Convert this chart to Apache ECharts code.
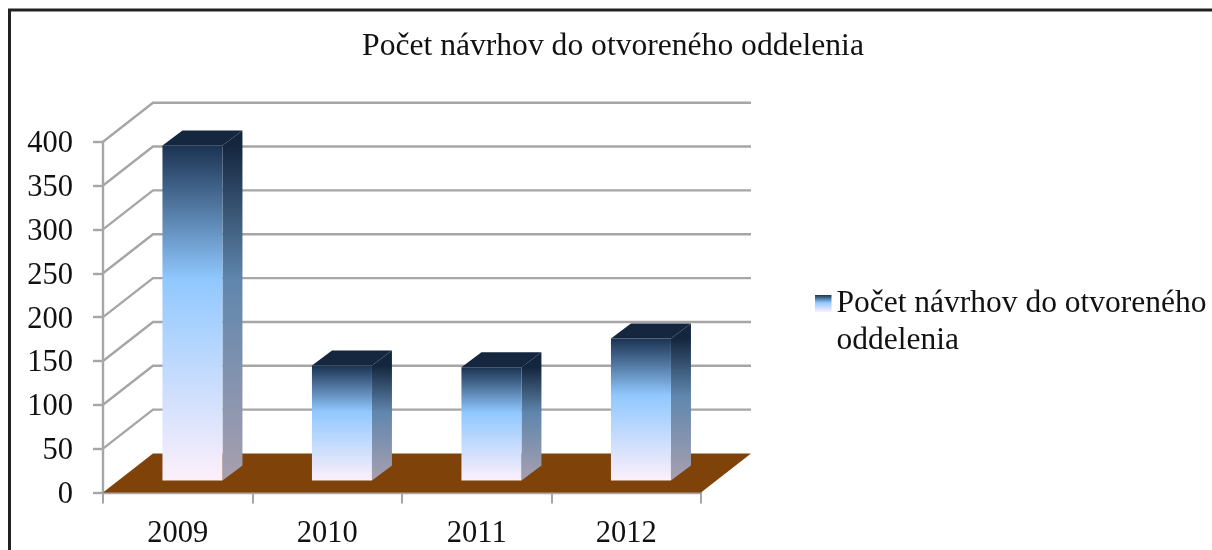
<!DOCTYPE html>
<html><head><meta charset="utf-8">
<style>html,body{margin:0;padding:0;background:#fff}#c{width:1212px;height:550px}</style>
<script src="https://cdn.jsdelivr.net/npm/echarts@6/dist/echarts.min.js"></script>
</head><body><div id="c"></div>
<script>
const titleText = 'Počet návrhov do otvoreného oddelenia';
const categories = ['2009', '2010', '2011', '2012'];
const values = [382, 131, 129, 162];
const yTicks = [50, 100, 150, 200, 250, 300, 350, 400];

const FONT = '"Liberation Serif", serif';
const DEPTH = {x: 50, y: -39};
const BAR_OFFSET = {x: 14.7, y: -12};
const BAR_DEPTH = {x: 20, y: -15};
const BAR_WIDTH = 60;
const GRID_COLOR = '#a6a6a6';

const grad = (x0, y0, x1, y1, stops) => ({
  type: 'linear', global: true, x: x0, y: y0, x2: x1, y2: y1,
  colorStops: stops.map(s => ({offset: s[0], color: s[1]}))
});
const legendGrad = {
  type: 'linear', x: 0, y: 0, x2: 0, y2: 1,
  colorStops: [{offset: 0, color: '#1b3352'}, {offset: .45, color: '#90c8ff'}, {offset: 1, color: '#fdf0fb'}]
};

function renderWall(params, api) {
  const p = api.coord([0, api.value(0)]);
  const cs = params.coordSys;
  const x0 = cs.x, x1 = cs.x + cs.width, y = p[1];
  return {
    type: 'polyline', silent: true,
    shape: {points: [[x0, y], [x0 + DEPTH.x, y + DEPTH.y], [x1 + DEPTH.x, y + DEPTH.y]]},
    style: {fill: null, stroke: GRID_COLOR, lineWidth: 2.4}
  };
}
function renderFloor(params, api) {
  const cs = params.coordSys;
  const y = api.coord([0, 0])[1], x0 = cs.x, x1 = cs.x + cs.width;
  return {
    type: 'polygon', silent: true,
    shape: {points: [[x0, y], [x0 + DEPTH.x, y + DEPTH.y], [x1 + DEPTH.x, y + DEPTH.y], [x1, y]]},
    style: {fill: '#7f4208'}
  };
}
function renderBar(params, api) {
  const i = api.value(0), v = api.value(1);
  const top = api.coord([i, v]), base = api.coord([i, 0]);
  const xl = top[0] - BAR_WIDTH / 2 + BAR_OFFSET.x, xr = xl + BAR_WIDTH;
  const yt = top[1] + BAR_OFFSET.y, yb = base[1] + BAR_OFFSET.y;
  const dx = BAR_DEPTH.x, dy = BAR_DEPTH.y;
  return {
    type: 'group', children: [
      {type: 'polygon', shape: {points: [[xr, yt], [xr + dx, yt + dy], [xr + dx, yb + dy], [xr, yb]]},
       style: {fill: grad(0, yt, 0, yb, [[0, '#14263e'], [.4, '#5f86ad'], [1, '#a8a0b0']])}},
      {type: 'polygon', shape: {points: [[xl, yt], [xl + dx, yt + dy], [xr + dx, yt + dy], [xr, yt]]},
       style: {fill: '#15263f'}},
      {type: 'rect', shape: {x: xl, y: yt, width: BAR_WIDTH, height: yb - yt},
       style: {fill: grad(0, yt, 0, yb, [[0, '#1b3352'], [.4, '#90c8ff'], [1, '#fdf0fb']])}}
    ]
  };
}

const chart = echarts.init(document.getElementById('c'), null, {renderer: 'canvas'});
chart.setOption({
  animation: false,
  backgroundColor: '#fff',
  title: {
    text: titleText, left: 613, top: 31, textAlign: 'center', padding: 0,
    textStyle: {fontFamily: FONT, fontSize: 31.6, fontWeight: 'normal', color: '#111'}
  },
  legend: {
    data: [{name: titleText, icon: 'rect', itemStyle: {color: legendGrad}}],
    left: 815, top: 248, padding: 0, orient: 'vertical', itemWidth: 16.5, itemHeight: 17, itemGap: 0,
    formatter: () => '\nPočet návrhov do otvoreného\noddelenia',
    textStyle: {fontFamily: FONT, fontSize: 31.5, color: '#111', lineHeight: 37}
  },
  grid: {left: 103, right: 511, top: 141.7, height: 350.8},
  xAxis: {
    type: 'category', data: categories, boundaryGap: true,
    axisLine: {lineStyle: {color: GRID_COLOR, width: 2.4}},
    axisTick: {show: true, alignWithLabel: false, length: 11, lineStyle: {color: GRID_COLOR, width: 2}},
    axisLabel: {fontFamily: FONT, fontSize: 30.5, color: '#111', margin: 26}
  },
  yAxis: {
    type: 'value', min: 0, max: 400, interval: 50,
    axisLine: {show: true, lineStyle: {color: GRID_COLOR, width: 2.4}},
    axisTick: {show: true, length: 10, lineStyle: {color: GRID_COLOR, width: 2.4}},
    axisLabel: {
      margin: 30, formatter: '{n|{value}}',
      rich: {n: {fontFamily: FONT, fontSize: 30.5, color: '#111', padding: [5, 0, 0, 0]}}
    },
    splitLine: {show: false}
  },
  graphic: [
    {type: 'polyline', silent: true, z: 100, shape: {points: [[9.5, 550], [9.5, 10], [1212, 10]]},
     style: {fill: null, stroke: '#222', lineWidth: 3}}
  ],
  series: [
    {type: 'custom', name: 'wall', coordinateSystem: 'cartesian2d', z: 1, renderItem: renderWall,
     data: yTicks.map(v => [v]), encode: {y: 0}},
    {type: 'custom', name: 'floor', coordinateSystem: 'cartesian2d', z: 2, renderItem: renderFloor,
     data: [[0]], encode: {y: 0}},
    {type: 'custom', name: titleText, coordinateSystem: 'cartesian2d', z: 3, renderItem: renderBar,
     itemStyle: {color: legendGrad},
     data: values.map((v, i) => [i, v]), encode: {x: 0, y: 1}}
  ]
});
</script></body></html>
